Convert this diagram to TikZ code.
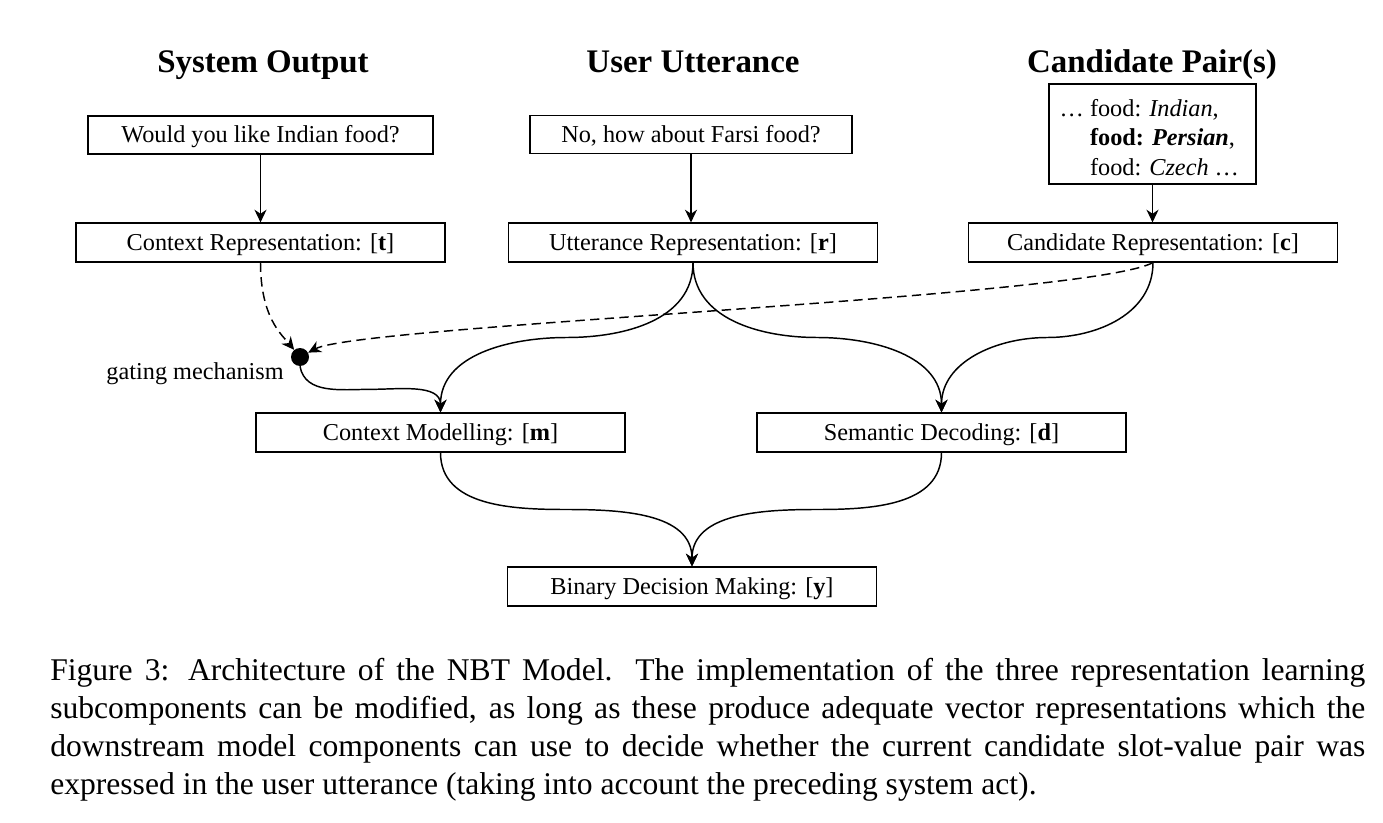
\documentclass[tikz,border=0pt]{standalone}
\usepackage{fontspec}
\setmainfont{Liberation Serif}
\usetikzlibrary{arrows.meta,calc}
\begin{document}
\begin{tikzpicture}[x=0.75pt,y=-0.75pt,
  box/.style={draw, line width=1.1pt, minimum width=276.75pt, minimum height=29pt,
    inner sep=0pt, text height=15.5pt, text depth=4pt, font=\fontsize{18.2}{21}\selectfont},
  head/.style={anchor=base, font=\fontsize{24.7}{29}\selectfont\bfseries},
  conn/.style={line width=1.1pt, -{Stealth[length=9.5pt,width=9pt,inset=3pt]}},
  gated/.style={conn, dashed, dash pattern=on 7pt off 4pt},
]
\useasboundingbox (0,0) rectangle (1383,823);

% column headings
\node[head] (hso) at (263,73) {System Output};
\node[head] (huu) at (693,73) {User Utterance};
\node[head] (hcp) at (1152,73) {Candidate Pair(s)};

% inputs
\node[box, minimum width=258.75pt, minimum height=28.5pt] (so) at (260.5,135) {Would you like Indian food?};
\node[box, minimum width=241.5pt, minimum height=28.5pt] (uu) at (691,134.5) {No, how about Farsi food?};
\node[draw, line width=1.1pt, inner sep=0pt, minimum width=155.25pt, minimum height=75pt,
  font=\fontsize{18.2}{22}\selectfont] (cp) at (1152.5,134)
  {\raisebox{-4.5pt}[\height][\depth]{\begin{tabular}{@{\hspace{18pt}}l@{}}
    \llap{\dots\ }food: \textit{Indian},\\
    \textbf{food: \textit{Persian}},\\
    food: \textit{Czech} \dots
  \end{tabular}}};

% representations
\node[box] (ctx) at (260.5,242.5) {Context Representation: [\textbf{t}]};
\node[box] (utt) at (693,242.5) {Utterance Representation: [\textbf{r}]};
\node[box] (cand) at (1153,242.5) {Candidate Representation: [\textbf{c}]};

% gating
\node[circle, fill=black, inner sep=0pt, minimum size=13.5pt] (gate) at (300,357) {};
\node[anchor=east, inner sep=0pt, font=\fontsize{18.2}{21}\selectfont] (glabel) at (284,374) {gating mechanism};

% downstream
\node[box] (cm) at (440.5,432.5) {Context Modelling: [\textbf{m}]};
\node[box] (sd) at (941.5,432.5) {Semantic Decoding: [\textbf{d}]};
\node[box] (bd) at (692,586.5) {Binary Decision Making: [\textbf{y}]};

% input arrows
\draw[conn] (so.south) -- (so.south |- ctx.north);
\draw[conn] (uu.south) -- (uu.south |- utt.north);
\draw[conn] (cp.south) -- (cp.south |- cand.north);

% gating inputs
\draw[gated] (ctx.south) .. controls +(0,55) and +(-18,-22) .. (gate);
\draw[gated] (cand.south) .. controls +(-65,35) and +(60,-32) .. (gate);

% S-shaped connectors
\draw[conn] (gate.south) to[out=-80,in=180] ($(gate.south)!.5!(cm.north)$) to[out=0,in=90] (cm.north);
\draw[conn] (utt.south) to[out=-90,in=0] ($(utt.south)!.5!(cm.north)$) to[out=180,in=90] (cm.north);
\draw[conn] (utt.south) to[out=-90,in=180] ($(utt.south)!.5!(sd.north)$) to[out=0,in=90] (sd.north);
\draw[conn] (cand.south) to[out=-90,in=0] ($(cand.south)!.5!(sd.north)$) to[out=180,in=90] (sd.north);
\draw[conn] (cm.south) to[out=-90,in=180] ($(cm.south)!.5!(bd.north)$) to[out=0,in=90] (bd.north);
\draw[conn] (sd.south) to[out=-90,in=0] ($(sd.south)!.5!(bd.north)$) to[out=180,in=90] (bd.north);

% caption
\node[anchor=north west, inner sep=0pt, text width=986.25pt, align=justify,
  font=\fontsize{23.7}{28.5}\selectfont] (cap) at (50,658)
  {Figure 3: Architecture of the NBT Model. The implementation of the three representation learning\linebreak
   subcomponents can be modified, as long as these produce adequate vector representations which the\linebreak
   downstream model components can use to decide whether the current candidate slot-value pair was\linebreak
   expressed in the user utterance (taking into account the preceding system act).};
\end{tikzpicture}
\end{document}
